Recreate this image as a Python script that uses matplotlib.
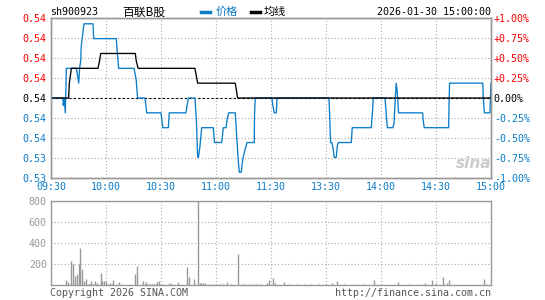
import matplotlib
matplotlib.use("Agg")
import matplotlib.pyplot as plt
from matplotlib.lines import Line2D

# previous close and time axis labels
base = 0.539
time_labels = ["09:30", "10:00", "10:30", "11:00", "11:30", "13:30", "14:00", "14:30", "15:00"]

# price line vertices (minutes since 09:30, price)
price_min = [0, 6.5, 6.7, 7.2, 7.8, 8.4, 13.8, 14.5, 15.1, 15.6,
             16.2, 16.5, 17.0, 18.0, 22.9, 23.3, 35.6, 36.2, 36.9, 45.3,
             46.5, 47.2, 51.3, 52.2, 60.0, 61.0, 64.0, 64.5, 73.6, 74.9,
             78.5, 79.3, 80.0, 80.4, 81.3, 82.2, 88.5, 89.2, 93.1, 94.0,
             95.5, 96.0, 96.9, 100.5, 101.0, 101.5, 102.0, 102.7, 103.8, 104.2,
             104.8, 105.8, 106.9, 110.9, 111.0, 111.4, 120.5, 121.0, 121.8, 122.9,
             123.3, 151.6, 152.0, 152.5, 153.2, 154.0, 154.5, 155.6, 156.2, 156.7,
             163.8, 164.3, 174.7, 175.2, 175.8, 182.2, 182.9, 183.5, 186.5, 187.1,
             187.6, 188.3, 188.8, 189.6, 202.7, 203.0, 203.6, 216.9, 217.1, 217.4,
             235.5, 235.8, 236.4, 239.4, 240]
price_val = [0.539, 0.539, 0.5385, 0.539, 0.538, 0.541, 0.541, 0.5405, 0.540, 0.541,
             0.5415, 0.5425, 0.543, 0.544, 0.544, 0.543, 0.543, 0.542, 0.541, 0.541,
             0.5402, 0.539, 0.539, 0.538, 0.538, 0.537, 0.537, 0.538, 0.538, 0.539,
             0.539, 0.5375, 0.535, 0.535, 0.5358, 0.537, 0.537, 0.536, 0.536, 0.537,
             0.537, 0.5375, 0.538, 0.538, 0.537, 0.536, 0.535, 0.534, 0.534, 0.5345,
             0.535, 0.5355, 0.536, 0.536, 0.5378, 0.539, 0.539, 0.5385, 0.538, 0.538,
             0.539, 0.539, 0.5378, 0.536, 0.536, 0.5355, 0.535, 0.535, 0.5358, 0.536,
             0.536, 0.537, 0.537, 0.5378, 0.539, 0.539, 0.5378, 0.537, 0.537, 0.5373,
             0.5385, 0.540, 0.5395, 0.538, 0.538, 0.5375, 0.537, 0.537, 0.5385, 0.540,
             0.540, 0.539, 0.538, 0.538, 0.540]

# average price line vertices
avg_min = [0, 9.6, 10.0, 11.1, 25.6, 26.5, 27.1, 46.0, 46.5, 47.5, 78.5, 80.0, 100.5, 101.8, 240]
avg_val = [0.539, 0.539, 0.540, 0.541, 0.541, 0.5415, 0.542, 0.542, 0.5415, 0.541,
           0.541, 0.540, 0.540, 0.539, 0.539]

# volume per minute
vol_min = [8, 9, 11, 12, 13, 14, 15, 16, 17, 18, 19, 20, 21, 22, 23, 24, 25, 27, 28, 29,
           30, 31, 32, 33, 34, 37, 46, 47, 50, 51, 52, 53, 54, 55, 56, 57, 58, 59, 61, 64,
           65, 66, 69, 74, 75, 78, 80, 81, 82, 83, 84, 86, 88, 90, 92, 94, 96, 98, 102, 104,
           106, 108, 110, 112, 114, 118, 119, 121, 122, 127, 130, 134, 138, 142, 146, 150, 153, 156, 160, 165,
           170, 176, 180, 189, 195, 200, 204, 208, 210, 214, 216, 217, 236, 237]
vol_val = [48, 25, 229, 197, 86, 105, 197, 356, 152, 38, 57, 10, 10, 38, 13, 38, 19, 114, 38, 38,
           38, 10, 19, 10, 48, 29, 105, 181, 38, 10, 29, 13, 10, 10, 10, 10, 29, 38, 13, 10,
           19, 10, 29, 171, 76, 57, 800, 15, 20, 20, 15, 10, 10, 10, 10, 10, 25, 10, 300, 10,
           10, 10, 10, 10, 10, 15, 48, 63, 15, 25, 8, 8, 8, 8, 8, 8, 22, 38, 8, 8,
           8, 48, 8, 25, 8, 8, 22, 48, 20, 79, 20, 48, 57, 10]

blue = "#0a7cc8"
red = "#ff0000"
gray = "#999999"
grid_c = "#aaaaaa"
mono = "DejaVu Sans Mono"
fs = 7.2

plt.rcParams["font.family"] = [mono, "Noto Sans CJK SC"]

fig = plt.figure(figsize=(5.45, 3.0), dpi=100)
W, H = 545.0, 300.0
ax = fig.add_axes([51 / W, 1 - 178 / H, 440 / W, 160 / H])
axv = fig.add_axes([51 / W, 1 - 285 / H, 440 / W, 84 / H])

# price panel
ax.plot(price_min, price_val, color=blue, lw=0.95, zorder=3)
ax.plot(avg_min, avg_val, color="black", lw=0.95, zorder=4)
ax.set_xlim(0, 240)
ax.set_ylim(base * 0.99, base * 1.01)
steps = list(range(-4, 5))
yt = [base * (1 + k * 0.0025) for k in steps]
ax.set_yticks(yt)
ax.set_yticklabels(["%.2f" % v for v in yt], fontsize=fs)
for lab, k in zip(ax.get_yticklabels(), steps):
    lab.set_color(red if k > 0 else ("black" if k == 0 else blue))
ax.set_xticks(range(0, 241, 30))
ax.set_xticklabels(time_labels, fontsize=fs, color=blue)
ax.grid(True, color=grid_c, ls=(0, (1, 2)), lw=0.8)
ax.axhline(base, color="black", ls=(0, (2, 2)), lw=0.8, zorder=2)
ax.tick_params(length=0, pad=3)

ax2 = ax.twinx()
ax2.set_ylim(base * 0.99, base * 1.01)
ax2.set_yticks(yt)
pct_labels = ["%+.2f%%" % (k * 0.25) if k != 0 else "0.00%" for k in steps]
ax2.set_yticklabels(pct_labels, fontsize=fs)
for lab, k in zip(ax2.get_yticklabels(), steps):
    lab.set_color(red if k > 0 else ("black" if k == 0 else blue))
ax2.tick_params(length=0, pad=2)

# volume panel
axv.vlines(vol_min, 0, vol_val, color=gray, lw=1.0)
axv.set_xlim(0, 240)
axv.set_ylim(0, 800)
axv.set_yticks([200, 400, 600, 800])
axv.set_yticklabels(["200", "400", "600", "800"], fontsize=fs, color=gray)
axv.set_xticks(range(0, 241, 30))
axv.set_xticklabels([])
axv.grid(True, color=grid_c, ls=(0, (1, 2)), lw=0.8)
axv.tick_params(length=0, pad=3)

for a in (ax, ax2, axv):
    for s in a.spines.values():
        s.set_color(gray)
        s.set_linewidth(1.0)

# header
ty = 1 - 12 / H
fig.text(50 / W, ty, "sh900923", fontsize=fs, va="center", ha="left")
fig.text(144 / W, ty, "百联B股", fontsize=8.5, va="center", ha="center",
         family=["Noto Sans CJK SC"])
fig.add_artist(Line2D([201 / W, 210 / W], [ty, ty], color=blue, lw=2.5))
fig.text(216 / W, ty, "价格", fontsize=8, va="center", ha="left", color=blue,
         family=["Noto Sans CJK SC"])
fig.add_artist(Line2D([251 / W, 260 / W], [ty, ty], color="black", lw=2.5))
fig.text(264 / W, ty, "均线", fontsize=8, va="center", ha="left",
         family=["Noto Sans CJK SC"])
fig.text(491 / W, ty, "2026-01-30 15:00:00", fontsize=fs, va="center", ha="right")

# footer
fy = 1 - 293 / H
fig.text(50 / W, fy, "Copyright 2026 SINA.COM", fontsize=fs, va="center", ha="left", color="#555555")
fig.text(491 / W, fy, "http://finance.sina.com.cn", fontsize=fs, va="center", ha="right", color="#555555")

# watermark
fig.text(474 / W, 1 - 163 / H, "sina", fontsize=11, style="italic", weight="bold",
         color="#cccccc", ha="center", va="center", family=["DejaVu Sans"])

fig.savefig("out.png", dpi=100)
